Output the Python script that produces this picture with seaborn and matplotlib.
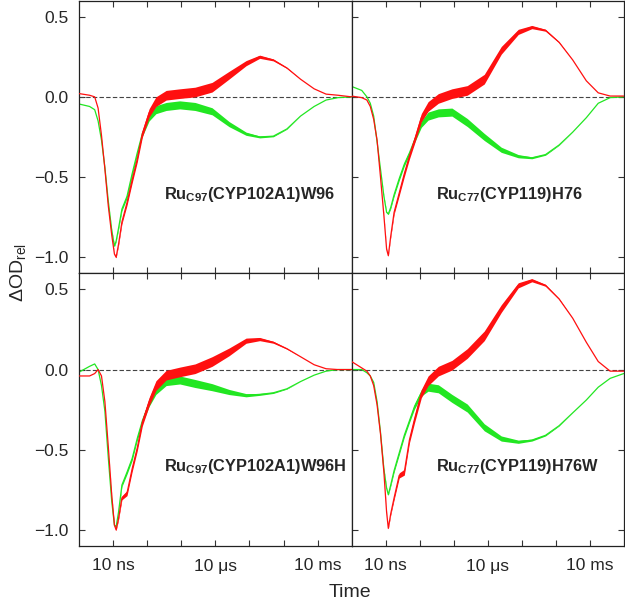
import matplotlib
matplotlib.use("Agg")
import matplotlib.pyplot as plt
import seaborn as sns
import numpy as np

# log10 of time in seconds, shared by every trace
log_t = [-9.0, -8.7, -8.55, -8.45, -8.35, -8.25, -8.15, -8.05, -7.97, -7.92,
         -7.85, -7.75, -7.6, -7.45, -7.3, -7.15, -6.95, -6.75, -6.45, -6.05,
         -5.6, -5.1, -4.6, -4.1, -3.7, -3.3, -2.9, -2.5, -2.1, -1.75, -1.4, -1.0]

# top-left: RuC97(CYP102A1)W96
tl_red = [0.02, 0.01, 0.0, -0.07, -0.24, -0.45, -0.68, -0.86, -0.98, -1.0,
          -0.92, -0.78, -0.66, -0.52, -0.39, -0.23, -0.10, -0.03, 0.01, 0.02,
          0.03, 0.06, 0.135, 0.21, 0.25, 0.23, 0.18, 0.11, 0.05, 0.017, 0.01, 0.0]
tl_green = [-0.045, -0.06, -0.08, -0.15, -0.27, -0.44, -0.65, -0.83, -0.93, -0.90,
            -0.82, -0.70, -0.62, -0.48, -0.35, -0.23, -0.13, -0.08, -0.06, -0.05,
            -0.06, -0.09, -0.17, -0.23, -0.25, -0.245, -0.20, -0.12, -0.06, -0.02, -0.005, 0.0]

# top-right: RuC77(CYP119)H76
tr_red = [0.005, -0.005, -0.02, -0.06, -0.14, -0.27, -0.50, -0.74, -0.95, -0.99,
          -0.87, -0.72, -0.60, -0.48, -0.37, -0.27, -0.13, -0.06, -0.01, 0.02,
          0.04, 0.11, 0.29, 0.405, 0.435, 0.415, 0.34, 0.23, 0.10, 0.025, 0.005, 0.005]
tr_green = [0.065, 0.04, 0.0, -0.04, -0.12, -0.28, -0.45, -0.62, -0.72, -0.73,
            -0.69, -0.61, -0.51, -0.42, -0.35, -0.27, -0.17, -0.12, -0.10, -0.095,
            -0.16, -0.25, -0.33, -0.37, -0.38, -0.36, -0.30, -0.22, -0.13, -0.04, -0.005, 0.0]

# bottom-left: RuC97(CYP102A1)W96H
bl_red = [-0.04, -0.04, -0.025, 0.0, -0.04, -0.20, -0.48, -0.78, -0.97, -1.0,
          -0.93, -0.80, -0.77, -0.62, -0.49, -0.33, -0.20, -0.10, -0.035, -0.015,
          0.005, 0.05, 0.11, 0.18, 0.19, 0.17, 0.13, 0.08, 0.03, 0.005, 0.0, 0.0]
bl_green = [-0.015, 0.02, 0.035, 0.0, -0.10, -0.26, -0.55, -0.82, -0.97, -0.98,
            -0.89, -0.72, -0.64, -0.555, -0.43, -0.32, -0.21, -0.13, -0.075, -0.065,
            -0.087, -0.11, -0.14, -0.16, -0.155, -0.145, -0.12, -0.075, -0.035, -0.01, 0.0, 0.0]

# bottom-right: RuC77(CYP119)H76W
br_red = [0.05, 0.01, -0.01, -0.04, -0.10, -0.22, -0.40, -0.64, -0.89, -0.99,
          -0.90, -0.80, -0.66, -0.64, -0.44, -0.31, -0.15, -0.07, -0.01, 0.027,
          0.10, 0.21, 0.38, 0.525, 0.557, 0.525, 0.44, 0.32, 0.17, 0.05, -0.01, -0.01]
br_green = [0.0, 0.0, -0.02, -0.04, -0.08, -0.20, -0.39, -0.62, -0.74, -0.78,
            -0.72, -0.63, -0.52, -0.41, -0.32, -0.23, -0.145, -0.11, -0.12, -0.18,
            -0.24, -0.36, -0.43, -0.45, -0.44, -0.41, -0.35, -0.27, -0.19, -0.11, -0.055, -0.025]

# half-width of the noise band seen on each trace
red_noise = [0.0, 0.0, 0.0, 0.0, 0.0, 0.0, 0.0, 0.004, 0.004, 0.004,
             0.008, 0.012, 0.016, 0.018, 0.018, 0.022, 0.026, 0.03, 0.03, 0.03,
             0.03, 0.03, 0.024, 0.016, 0.01, 0.006, 0.003, 0.0, 0.0, 0.0, 0.0, 0.0]
green_noise = [0.0, 0.0, 0.0, 0.0, 0.0, 0.0, 0.0, 0.004, 0.004, 0.004,
               0.008, 0.01, 0.012, 0.012, 0.012, 0.016, 0.02, 0.025, 0.025, 0.025,
               0.025, 0.022, 0.016, 0.01, 0.006, 0.004, 0.002, 0.0, 0.0, 0.0, 0.0, 0.0]

labels = [r"Ru$_{\mathbf{C97}}$(CYP102A1)W96", r"Ru$_{\mathbf{C77}}$(CYP119)H76",
          r"Ru$_{\mathbf{C97}}$(CYP102A1)W96H", r"Ru$_{\mathbf{C77}}$(CYP119)H76W"]
reds = [tl_red, tr_red, bl_red, br_red]
greens = [tl_green, tr_green, bl_green, br_green]

tick_times = [1e-8, 1e-7, 1e-6, 1e-5, 1e-4, 1e-3, 1e-2]
tick_labels = ["10 ns", "", "", "10 μs", "", "", "10 ms"]

sns.set_style("ticks")
plt.rcParams["font.family"] = ["Liberation Sans", "DejaVu Sans"]
plt.rcParams["mathtext.fontset"] = "custom"
plt.rcParams["mathtext.rm"] = "Liberation Sans"
plt.rcParams["mathtext.bf"] = "Liberation Sans:bold"

t = 10 ** np.array(log_t)
RED = "#ff1010"
GREEN = "#22e622"

fig, axes = plt.subplots(2, 2, figsize=(6.25, 6.0), dpi=100, sharex=True, sharey=True)
fig.subplots_adjust(left=0.127, right=0.998, top=0.999, bottom=0.09, wspace=0, hspace=0)

for i, ax in enumerate(axes.flat):
    g = np.array(greens[i])
    r = np.array(reds[i])
    ax.axhline(0, color="#444444", lw=0.8, ls=(0, (4, 2)), zorder=1)
    ax.fill_between(t, g - green_noise, g + green_noise, color=GREEN, lw=0, zorder=2)
    sns.lineplot(x=t, y=g, ax=ax, color=GREEN, lw=0.9, estimator=None, zorder=2)
    ax.fill_between(t, r - red_noise, r + red_noise, color=RED, lw=0, zorder=3)
    sns.lineplot(x=t, y=r, ax=ax, color=RED, lw=0.9, estimator=None, zorder=3)

    ax.set_xscale("log")
    ax.set_xlim(1e-9, 1e-1)
    ax.set_ylim(-1.1, 0.6)
    ax.set_xticks(tick_times)
    ax.set_xticklabels(tick_labels)
    ax.minorticks_off()
    ax.set_yticks([-1.0, -0.5, 0.0, 0.5])
    ax.set_yticklabels(["\u22121.0", "\u22120.5", "0.0", "0.5"])
    ax.tick_params(direction="in", length=4, width=0.8, top=True, bottom=True,
                   left=True, right=(i % 2 == 1), labelsize=12.5, color="#333333")
    ax.tick_params(axis="x", pad=9)
    ax.tick_params(axis="y", pad=8)
    for s in ax.spines.values():
        s.set_color("#222222")
        s.set_linewidth(0.9)
    ax.set_xlabel("")
    ax.set_ylabel("")
    ax.text(0.31, 0.29, labels[i], transform=ax.transAxes, fontsize=11.8,
            fontweight="bold", ha="left", va="center")

fig.text(0.03, 0.545, r"ΔOD$_\mathrm{rel}$", rotation=90, fontsize=14,
         ha="center", va="center")
fig.text(0.56, 0.013, "Time", fontsize=14, ha="center", va="center")

fig.savefig("out.png", dpi=100)
